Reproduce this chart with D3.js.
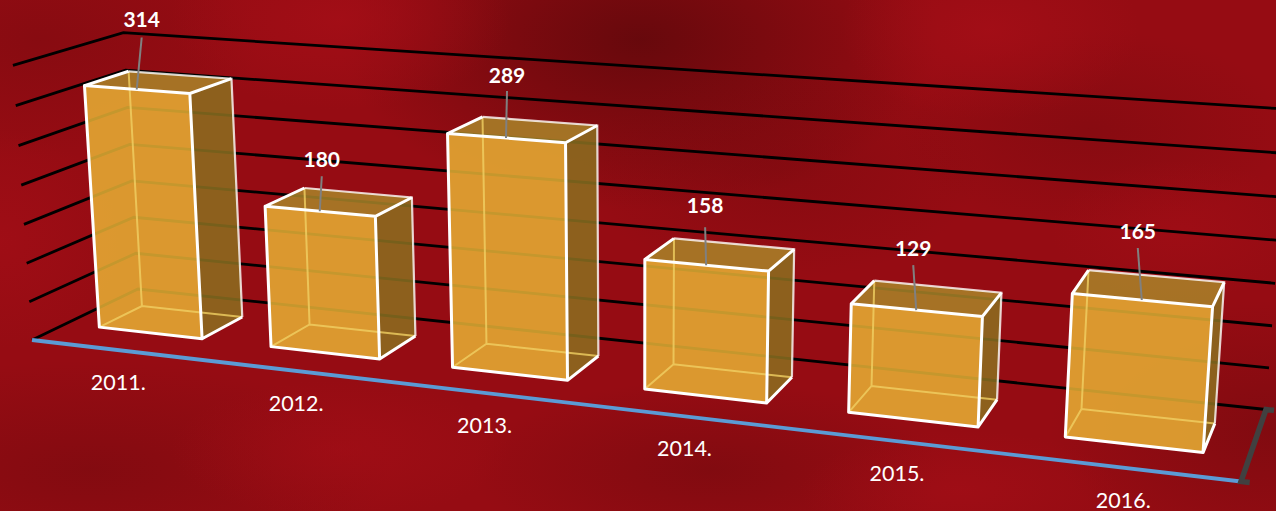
<!DOCTYPE html>
<html>
<head>
<meta charset="utf-8">
<script src="https://cdn.jsdelivr.net/npm/d3@7"></script>
<style>
  html, body { margin: 0; padding: 0; background: #8f0c12; overflow: hidden; }
  svg { display: block; }
  text { font-family: Lato, "Open Sans", sans-serif; fill: #fff; }
</style>
</head>
<body>
<svg width="1276" height="511"></svg>
<script>
const years = ["2011.", "2012.", "2013.", "2014.", "2015.", "2016."];
const counts = [314, 180, 289, 158, 129, 165];
const gridTicks = [0, 50, 100, 150, 200, 250, 300, 350];

const svg = d3.select("svg");
const width = 1276, height = 511;

// floor corners of the chart box on screen, front-left first
const FL = [32, 340], FR = [1241, 481.5], BR = [1266, 409.5], BL = [138, 289];
// all the verticals meet far below the picture
const vanish = [640, 9100];

const dx1 = FR[0] - BR[0], dy1 = FR[1] - BR[1];
const dx2 = BL[0] - BR[0], dy2 = BL[1] - BR[1];
const sx = FL[0] - FR[0] + BR[0] - BL[0], sy = FL[1] - FR[1] + BR[1] - BL[1];
const det = dx1 * dy2 - dx2 * dy1;
const g = (sx * dy2 - dx2 * sy) / det, h = (dx1 * sy - sx * dy1) / det;

const xBand = d3.scaleBand().domain(years).range([0, 1]).paddingInner(0.395).paddingOuter(0.1975);
const lift = d3.scaleLinear().domain([0, 350]).range([0, -0.0304]);

function project(u, v, val) {
  const t = lift(val);
  const w = 1 + g * u + h * v + t;
  const px = (FR[0] * (1 + g) - FL[0]) * u + (BL[0] * (1 + h) - FL[0]) * v + FL[0] + t * vanish[0];
  const py = (FR[1] * (1 + g) - FL[1]) * u + (BL[1] * (1 + h) - FL[1]) * v + FL[1] + t * vanish[1];
  return [px / w, py / w];
}

// background, dark and bright patches
const patches = [
  { id: "p0", cx: 640, cy: 40, rx: 300, ry: 170, c: "#5f080b", o: 0.85 },
  { id: "p1", cx: 1090, cy: 130, rx: 200, ry: 100, c: "#6d090d", o: 0.35 },
  { id: "p2", cx: 40, cy: 40, rx: 220, ry: 120, c: "#6d090d", o: 0.35 },
  { id: "p3", cx: 90, cy: 470, rx: 300, ry: 110, c: "#6d090d", o: 0.45 },
  { id: "p4", cx: 710, cy: 470, rx: 240, ry: 90, c: "#6d090d", o: 0.5 },
  { id: "p5", cx: 1270, cy: 430, rx: 220, ry: 130, c: "#6d090d", o: 0.5 },
  { id: "p10", cx: 780, cy: 170, rx: 200, ry: 110, c: "#6d090d", o: 0.35 },
  { id: "p6", cx: 340, cy: 20, rx: 170, ry: 90, c: "#a50e17", o: 0.8 },
  { id: "p7", cx: 990, cy: 30, rx: 150, ry: 90, c: "#a50e17", o: 0.8 },
  { id: "p8", cx: 340, cy: 450, rx: 170, ry: 70, c: "#a50e17", o: 0.6 },
  { id: "p9", cx: 960, cy: 490, rx: 160, ry: 60, c: "#a50e17", o: 0.6 },
  { id: "p11", cx: 0, cy: 240, rx: 120, ry: 110, c: "#a50e17", o: 0.6 },
  { id: "p12", cx: 1180, cy: 230, rx: 130, ry: 70, c: "#a50e17", o: 0.5 }
];
svg.append("rect").attr("width", width).attr("height", height).attr("fill", "#960c13");
const defs = svg.append("defs");
patches.forEach(p => {
  const rg = defs.append("radialGradient").attr("id", p.id);
  rg.append("stop").attr("offset", 0).attr("stop-color", p.c).attr("stop-opacity", p.o);
  rg.append("stop").attr("offset", 1).attr("stop-color", p.c).attr("stop-opacity", 0);
  svg.append("ellipse").attr("cx", p.cx).attr("cy", p.cy).attr("rx", p.rx).attr("ry", p.ry)
    .attr("fill", `url(#${p.id})`);
});

const line = d3.line();

// gridlines run along the left wall and the back wall
svg.append("g").selectAll("path").data(gridTicks).enter().append("path")
  .attr("d", d => line([project(0, 0, d), project(0, 1, d), project(1, 1, d)]))
  .attr("fill", "none").attr("stroke", "#000").attr("stroke-width", 2.8);

svg.append("path")
  .attr("d", line([project(0, 0, 0), project(1, 0, 0)]))
  .attr("fill", "none").attr("stroke", "#5b9bd5").attr("stroke-width", 3.8);

// grey post at the right end of the floor, with its two small caps
svg.append("path")
  .attr("d", line([project(1.006, 0, 0), project(1, 0, 0), project(1, 1, 0), project(1.006, 1, 0)]))
  .attr("fill", "none").attr("stroke", "#404040").attr("stroke-width", 5.5);

const v0 = 0.31, v1 = 0.72;
const bars = years.map((y, i) => ({
  year: y, val: counts[i],
  u0: xBand(y), u1: xBand(y) + xBand.bandwidth()
}));

const barG = svg.append("g").selectAll("g").data(bars).enter().append("g");
const poly = pts => line(pts) + "Z";
const corner = (d, side, depth, top) => project(side ? d.u1 : d.u0, depth ? v1 : v0, top ? d.val : 0);

barG.append("path") // right face
  .attr("d", d => poly([corner(d, 1, 0, 0), corner(d, 1, 1, 0), corner(d, 1, 1, 1), corner(d, 1, 0, 1)]))
  .attr("fill", "#8c7020").attr("fill-opacity", 0.85);
barG.append("path") // top face
  .attr("d", d => poly([corner(d, 0, 0, 1), corner(d, 1, 0, 1), corner(d, 1, 1, 1), corner(d, 0, 1, 1)]))
  .attr("fill", "#a98529").attr("fill-opacity", 0.85);
barG.append("path") // front face
  .attr("d", d => poly([corner(d, 0, 0, 0), corner(d, 1, 0, 0), corner(d, 1, 0, 1), corner(d, 0, 0, 1)]))
  .attr("fill", "#e7b135").attr("fill-opacity", 0.85);

// floor and back inner edges, faint on the faces
barG.append("path")
  .attr("d", d => line([corner(d, 0, 0, 0), corner(d, 0, 1, 0), corner(d, 1, 1, 0)]) +
    line([corner(d, 0, 1, 0), corner(d, 0, 1, 1)]))
  .attr("fill", "none").attr("stroke", "#f0cf63").attr("stroke-width", 2).attr("stroke-opacity", 0.8);

barG.append("path") // back rim
  .attr("d", d => line([corner(d, 0, 1, 1), corner(d, 1, 1, 1), corner(d, 1, 1, 0)]))
  .attr("fill", "none").attr("stroke", "#fff").attr("stroke-opacity", 0.8).attr("stroke-width", 2.2);

barG.append("path") // front rim
  .attr("d", d => poly([corner(d, 0, 0, 0), corner(d, 1, 0, 0), corner(d, 1, 0, 1), corner(d, 0, 0, 1)]) +
    line([corner(d, 0, 0, 1), corner(d, 0, 1, 1)]) +
    line([corner(d, 1, 0, 1), corner(d, 1, 1, 1)]) +
    line([corner(d, 1, 0, 0), corner(d, 1, 1, 0)]))
  .attr("fill", "none").attr("stroke", "#fff").attr("stroke-width", 3).attr("stroke-linejoin", "round");

// data labels were placed by hand in the original, so each has its own leader
const leaderDx = [5, 2, 1, -1, -3, -4];
const leaderRise = [52, 35, 47, 38, 45, 52];
const labelGap = [19, 18, 17, 23, 18, 18];
bars.forEach((d, i) => {
  const a = project((d.u0 + d.u1) / 2, v0, d.val);
  const tip = [a[0] + leaderDx[i], a[1] - leaderRise[i]];
  svg.append("path").attr("d", line([a, tip]))
    .attr("stroke", "#808080").attr("stroke-width", 2).attr("fill", "none");
  svg.append("text").attr("x", tip[0]).attr("y", tip[1] - labelGap[i])
    .attr("text-anchor", "middle").attr("dominant-baseline", "central")
    .attr("font-weight", 700).attr("font-size", 21).text(d.val);

  const f = project((d.u0 + d.u1) / 2, 0, 0);
  svg.append("text").attr("x", f[0] + 1).attr("y", f[1] + 32)
    .attr("text-anchor", "middle").attr("dominant-baseline", "central")
    .attr("font-size", 21.5).text(d.year);
});
</script>
</body>
</html>
